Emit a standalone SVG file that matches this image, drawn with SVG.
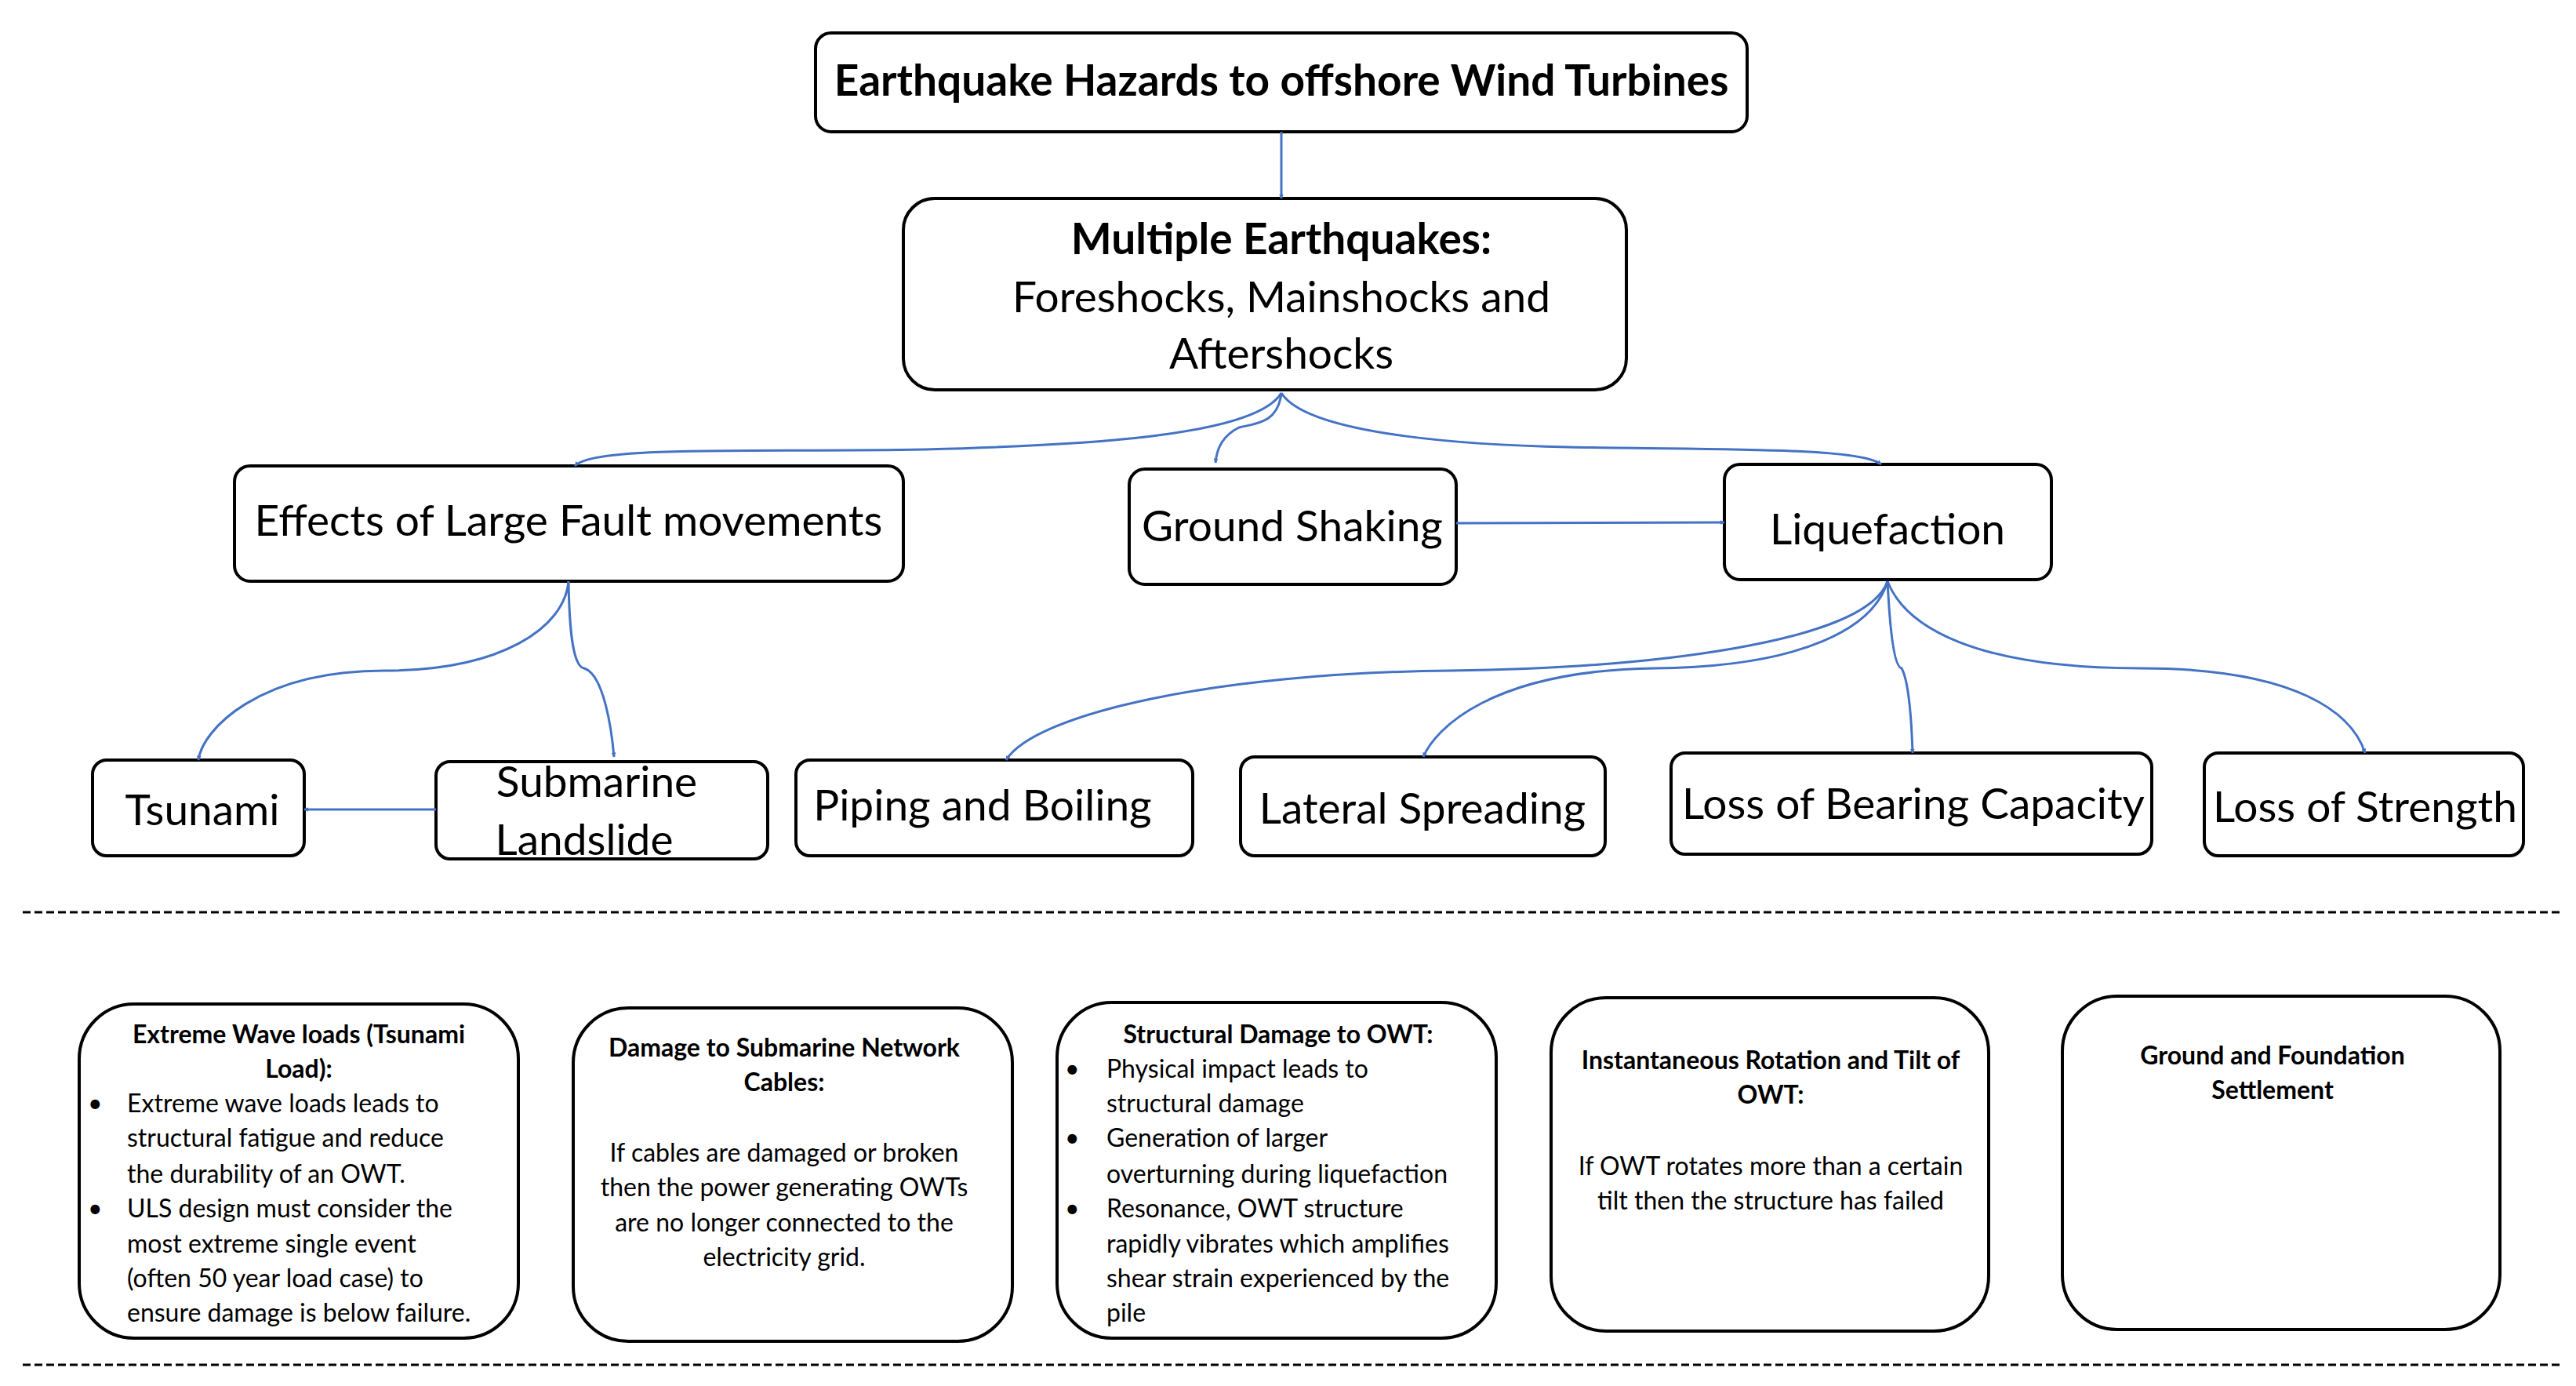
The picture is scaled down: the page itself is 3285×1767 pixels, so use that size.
<svg xmlns="http://www.w3.org/2000/svg" width="3285" height="1767" viewBox="0 0 3285 1767">
<defs>
<marker id="ah" viewBox="0 0 10 10" refX="9" refY="5" markerWidth="6" markerHeight="6" orient="auto" markerUnits="userSpaceOnUse"><path d="M0,0 L10,5 L0,10 z" fill="#4472C4"/></marker>
<style>
.b{fill:#fff;stroke:#000;stroke-width:4}
.t{font-family:Lato,"Liberation Sans",sans-serif;fill:#000;text-anchor:middle}
.L{font-size:55px}
.s{font-family:Lato,"Liberation Sans",sans-serif;font-size:32px;fill:#000}
.m{text-anchor:middle}
.bold{font-weight:bold}
.c{fill:none;stroke:#4472C4;stroke-width:3}
.c path{marker-end:url(#ah)}
.d{stroke:#000;stroke-width:3;stroke-dasharray:10 5}
</style>
</defs>
<rect width="3285" height="1767" fill="#fff"/>
<g id="top"><rect class="b" x="1040" y="42" width="1188" height="126" rx="20"/><text class="t L bold" x="1634" y="122">Earthquake Hazards to offshore Wind Turbines</text></g>
<g id="multi"><rect class="b" x="1152" y="253" width="922" height="244" rx="40"/><text class="t L bold" x="1634" y="324">Multiple Earthquakes:</text><text class="t L" x="1634" y="398">Foreshocks, Mainshocks and</text><text class="t L" x="1634" y="470">Aftershocks</text></g>
<g id="effects"><rect class="b" x="299" y="594" width="853" height="147" rx="20"/><text class="t L" x="725" y="683">Effects of Large Fault movements</text></g>
<g id="shaking"><rect class="b" x="1440" y="598" width="417" height="147" rx="20"/><text class="t L" x="1648" y="690">Ground Shaking</text></g>
<g id="liq"><rect class="b" x="2199" y="592" width="417" height="147" rx="20"/><text class="t L" x="2407" y="694">Liquefaction</text></g>
<g id="tsunami"><rect class="b" x="118" y="969" width="270" height="122" rx="18"/><text class="t L" x="258" y="1052">Tsunami</text></g>
<g id="landslide"><rect class="b" x="556" y="971" width="423" height="124" rx="18"/><text class="t L" x="761" y="1016">Submarine</text><text class="t L" x="745" y="1090">Landslide</text></g>
<g id="piping"><rect class="b" x="1015" y="969" width="506" height="122" rx="18"/><text class="t L" x="1253" y="1046">Piping and Boiling</text></g>
<g id="lateral"><rect class="b" x="1582" y="965" width="465" height="126" rx="18"/><text class="t L" x="1814" y="1050">Lateral Spreading</text></g>
<g id="bearing"><rect class="b" x="2131" y="960" width="613" height="129" rx="18"/><text class="t L" x="2440" y="1044">Loss of Bearing Capacity</text></g>
<g id="strength"><rect class="b" x="2811" y="960" width="407" height="131" rx="18"/><text class="t L" x="3016" y="1048">Loss of Strength</text></g>
<g id="dividers"><line class="d" x1="29" y1="1163" x2="3268" y2="1163"/><line class="d" x1="29" y1="1740" x2="3268" y2="1740"/></g>
<g id="box1"><rect class="b" x="101" y="1280" width="560" height="426" rx="70"/>
<text class="s m bold" x="381" y="1330">Extreme Wave loads (Tsunami</text><text class="s m bold" x="381" y="1374">Load):</text>
<text class="s"><tspan x="112" y="1418">•</tspan><tspan x="162" y="1418">Extreme wave loads leads to</tspan><tspan x="162" y="1462">structural fatigue and reduce</tspan><tspan x="162" y="1508">the durability of an OWT.</tspan><tspan x="112" y="1552">•</tspan><tspan x="162" y="1552">ULS design must consider the</tspan><tspan x="162" y="1597">most extreme single event</tspan><tspan x="162" y="1641">(often 50 year load case) to</tspan><tspan x="162" y="1685">ensure damage is below failure.</tspan></text></g>
<g id="box2"><rect class="b" x="731" y="1285" width="560" height="425" rx="70"/>
<text class="s m bold"><tspan x="1000" y="1347">Damage to Submarine Network</tspan><tspan x="1000" y="1391">Cables:</tspan></text>
<text class="s m"><tspan x="1000" y="1481">If cables are damaged or broken</tspan><tspan x="1000" y="1525">then the power generating OWTs</tspan><tspan x="1000" y="1570">are no longer connected to the</tspan><tspan x="1000" y="1614">electricity grid.</tspan></text></g>
<g id="box3"><rect class="b" x="1348" y="1278" width="560" height="428" rx="70"/>
<text class="s m bold" x="1630" y="1330">Structural Damage to OWT:</text>
<text class="s"><tspan x="1358" y="1374">•</tspan><tspan x="1411" y="1374">Physical impact leads to</tspan><tspan x="1411" y="1418">structural damage</tspan><tspan x="1358" y="1462">•</tspan><tspan x="1411" y="1462">Generation of larger</tspan><tspan x="1411" y="1508">overturning during liquefaction</tspan><tspan x="1358" y="1552">•</tspan><tspan x="1411" y="1552">Resonance, OWT structure</tspan><tspan x="1411" y="1597">rapidly vibrates which amplifies</tspan><tspan x="1411" y="1641">shear strain experienced by the</tspan><tspan x="1411" y="1685">pile</tspan></text></g>
<g id="box4"><rect class="b" x="1978" y="1272" width="558" height="425" rx="70"/>
<text class="s m bold"><tspan x="2258" y="1363">Instantaneous Rotation and Tilt of</tspan><tspan x="2258" y="1407">OWT:</tspan></text>
<text class="s m"><tspan x="2258" y="1498">If OWT rotates more than a certain</tspan><tspan x="2258" y="1542">tilt then the structure has failed</tspan></text></g>
<g id="box5"><rect class="b" x="2630" y="1270" width="558" height="425" rx="70"/>
<text class="s m bold"><tspan x="2898" y="1357">Ground and Foundation</tspan><tspan x="2898" y="1401">Settlement</tspan></text></g>
<g id="connectors" class="c">
<path d="M1634,168 L1634,253"/>
<path d="M1634,501 C1600,558 1369,568 1180,573 C948,577 758,568 733,594"/>
<path d="M1634,501 C1630,540 1600,540 1580,545 C1560,555 1552,570 1550,590"/>
<path d="M1634,501 C1670,558 1900,568 2000,570 C2200,574 2370,570 2399,592"/>
<path d="M1857,667 L2199,666"/>
<path d="M725,741 C720,800 640,855 490,855 C330,855 258,930 253,969"/>
<path d="M725,741 C726,800 730,850 745,852 C770,860 780,930 783,965"/>
<path d="M556,1032 L388,1032"/>
<path d="M2407,741 C2380,820 2100,852 1850,855 C1550,858 1320,910 1283,969"/>
<path d="M2407,741 C2390,800 2300,850 2110,852 C1900,855 1830,930 1815,965"/>
<path d="M2407,741 C2410,800 2415,850 2425,852 C2435,870 2438,930 2439,960"/>
<path d="M2407,741 C2430,800 2520,852 2730,852 C2930,852 3000,910 3016,960"/>
</g>
</svg>
